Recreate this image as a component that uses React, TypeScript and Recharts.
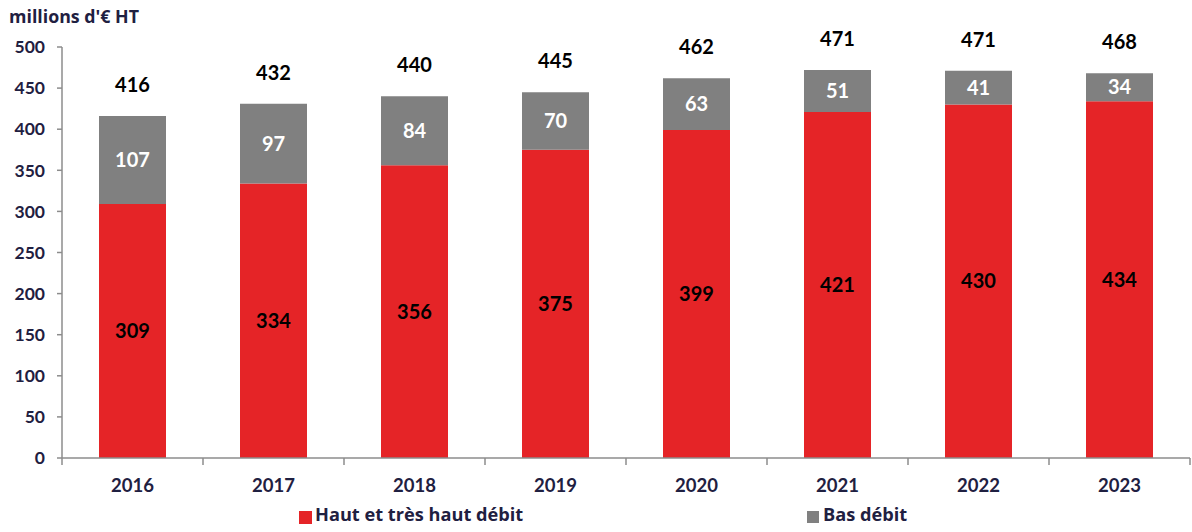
import { BarChart, Bar, XAxis, YAxis, LabelList, Legend } from 'recharts';

const years = ['2016', '2017', '2018', '2019', '2020', '2021', '2022', '2023'];
const hautDebit = [309, 334, 356, 375, 399, 421, 430, 434];
const basDebit = [107, 97, 84, 70, 63, 51, 41, 34];
const totals = [416, 432, 440, 445, 462, 471, 471, 468];
const yTicks = [0, 50, 100, 150, 200, 250, 300, 350, 400, 450, 500];

const seriesNames = ['Haut et très haut débit', 'Bas débit'];
const RED = '#E52427';
const GREY = '#808080';
const NAVY = '#1F2041';
const AXIS = '#8C8C8C';
const FONT = "Lato, 'Open Sans', sans-serif";
const TEXT_FONT = "'Open Sans', Lato, sans-serif";

const data = years.map((year, i) => ({
    year,
    haut: hautDebit[i],
    bas: basDebit[i],
    total: totals[i]
}));

const BAND = (1190 - 62) / years.length;

const XTick = ({ x, y, payload, index }: any) => {
    const last = index === years.length - 1;
    return (
        <g>
            <line x1={x - BAND / 2} y1={y} x2={x - BAND / 2} y2={y + 7} stroke={AXIS} strokeWidth={1.5} />
            {last && <line x1={x + BAND / 2} y1={y} x2={x + BAND / 2} y2={y + 7} stroke={AXIS} strokeWidth={1.5} />}
            <text x={x} y={y + 34} textAnchor="middle" fill={NAVY} fontSize={18.5} fontWeight={700} fontFamily={FONT}>
                {payload.value}
            </text>
        </g>
    );
};

const TotalLabel = ({ x, y, width, index }: any) => (
    <text x={x + width / 2} y={y - 24} textAnchor="middle" fill="#000" fontSize={20} fontWeight={700} fontFamily={FONT}>
        {totals[index]}
    </text>
);

const LegendContent = () => (
    <div style={{ position: 'relative', width: 1192, height: 32, fontFamily: TEXT_FONT, fontWeight: 700, fontSize: 18.2, color: NAVY }}>
        <div style={{ position: 'absolute', left: 299, top: 11, width: 13, height: 13, background: RED }} />
        <div style={{ position: 'absolute', left: 315, top: 2, lineHeight: '24px' }}>{seriesNames[0]}</div>
        <div style={{ position: 'absolute', left: 807, top: 11, width: 12, height: 12, background: GREY }} />
        <div style={{ position: 'absolute', left: 823, top: 2, lineHeight: '24px' }}>{seriesNames[1]}</div>
    </div>
);

export default function App() {
    return (
        <div style={{ position: 'absolute', left: 0, top: 0, width: 1192, height: 532, background: '#fff', fontFamily: FONT }}>
            <div style={{ position: 'absolute', left: 9, top: 4, fontSize: 17.8, fontWeight: 700, color: NAVY, lineHeight: '24px', fontFamily: TEXT_FONT }}>
                millions d'€ HT
            </div>
            <BarChart
                width={1192}
                height={532}
                data={data}
                margin={{ top: 47, right: 2, left: 0, bottom: 44 }}
                barSize={67}
            >
                <XAxis
                    dataKey="year"
                    height={30}
                    stroke={AXIS}
                    strokeWidth={1.5}
                    tickLine={false}
                    tickSize={0}
                    tickMargin={0}
                    tick={<XTick />}
                    interval={0}
                />
                <YAxis
                    width={62}
                    domain={[0, 500]}
                    ticks={yTicks}
                    interval={0}
                    stroke={AXIS}
                    strokeWidth={1.5}
                    tickSize={5}
                    tickMargin={12}
                    tick={{ fill: NAVY, fontSize: 17.5, fontWeight: 700, fontFamily: FONT }}
                />
                <Legend
                    layout="horizontal"
                    verticalAlign="middle"
                    align="center"
                    wrapperStyle={{ position: 'absolute', left: 0, top: 500, width: 1192, height: 32 }}
                    content={<LegendContent />}
                />
                <Bar dataKey="haut" stackId="a" fill={RED} isAnimationActive={false} name={seriesNames[0]}>
                    <LabelList dataKey="haut" position="center" fill="#000" fontSize={20} fontWeight={700} fontFamily={FONT} />
                </Bar>
                <Bar dataKey="bas" stackId="a" fill={GREY} isAnimationActive={false} name={seriesNames[1]}>
                    <LabelList dataKey="bas" position="center" fill="#fff" fontSize={20} fontWeight={700} fontFamily={FONT} />
                    <LabelList dataKey="total" content={<TotalLabel />} />
                </Bar>
            </BarChart>
        </div>
    );
}
